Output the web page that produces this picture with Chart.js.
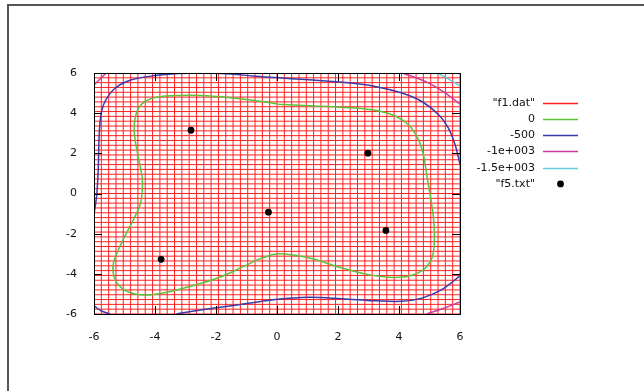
<!DOCTYPE html>
<html>
<head>
<meta charset="utf-8">
<script src="https://cdn.jsdelivr.net/npm/chart.js@4/dist/chart.umd.min.js"></script>
<style>
  html, body { margin: 0; padding: 0; background: #fff; }
  #wrap { width: 644px; height: 391px; position: relative; }
</style>
</head>
<body>
<div id="wrap"><canvas id="plot" width="644" height="391"></canvas></div>
<script>
// sample positions of the f1.dat surface mesh (51 x 51)
const gridVals = [-6, -5.76, -5.52, -5.28, -5.04, -4.8, -4.56, -4.32, -4.08, -3.84, -3.6, -3.36, -3.12,
  -2.88, -2.64, -2.4, -2.16, -1.92, -1.68, -1.44, -1.2, -0.96, -0.72, -0.48, -0.24, 0, 0.24, 0.48, 0.72,
  0.96, 1.2, 1.44, 1.68, 1.92, 2.16, 2.4, 2.64, 2.88, 3.12, 3.36, 3.6, 3.84, 4.08, 4.32, 4.56, 4.8,
  5.04, 5.28, 5.52, 5.76, 6];

const tickVals = [-6, -4, -2, 0, 2, 4, 6];

// contour level 0
const contour0 = [[0.04, 4.45], [-0.72, 4.63], [-1.6, 4.78], [-2.47, 4.88], [-3.23, 4.88], [-3.89, 4.8],
  [-4.33, 4.58], [-4.57, 4.17], [-4.68, 3.42], [-4.66, 2.76], [-4.55, 1.84], [-4.42, 0.77], [-4.42, 0.1],
  [-4.49, -0.56], [-4.68, -1.22], [-4.96, -2.05], [-5.2, -2.8], [-5.37, -3.54], [-5.33, -4.21],
  [-5.09, -4.71], [-4.66, -5.0], [-4.11, -5.04], [-3.45, -4.87], [-2.58, -4.51], [-1.81, -4.13],
  [-1.16, -3.68], [-0.5, -3.22], [0.04, -3.0], [0.6, -3.08], [1.25, -3.29], [2.13, -3.71], [3.0, -4.04],
  [3.66, -4.17], [4.31, -4.12], [4.8, -3.79], [5.08, -3.21], [5.16, -2.38], [5.13, -1.22], [5.02, -0.06],
  [4.91, 0.93], [4.8, 1.93], [4.64, 2.67], [4.31, 3.42], [3.77, 3.92], [3.11, 4.17], [2.13, 4.3],
  [1.03, 4.37], [0.04, 4.45]];

// contour level -500 (three pieces)
const contour500a = [[-6, -1.05], [-5.91, -0.06], [-5.86, 1.26], [-5.83, 2.92], [-5.77, 3.92], [-5.64, 4.58],
  [-5.31, 5.24], [-4.77, 5.66], [-4.0, 5.87], [-3.23, 5.97], [-2.5, 6.0], [-1.5, 5.95], [-0.8, 5.85],
  [-0.06, 5.77], [1.03, 5.66], [2.13, 5.54], [3.22, 5.33], [4.09, 5.0], [4.75, 4.58], [5.3, 3.92],
  [5.62, 3.26], [5.84, 2.43], [6, 1.45]];
const contour500b = [[-6, -5.6], [-5.75, -5.85], [-5.47, -6]];
const contour500c = [[-3.3, -6], [-2.5, -5.8], [-1.8, -5.65], [-0.94, -5.47], [-0.06, -5.28], [1.03, -5.17],
  [2.13, -5.24], [3.22, -5.34], [4.09, -5.37], [4.75, -5.21], [5.4, -4.79], [6, -4.1]];

// contour level -1000
const contour1000a = [[-6, 5.4], [-5.8, 5.7], [-5.6, 6]];
const contour1000b = [[4.1, 6], [4.86, 5.58], [5.52, 5.0], [6, 4.45]];
const contour1000c = [[4.9, -6], [5.4, -5.75], [6, -5.4]];

// contour level -1500
const contour1500 = [[5.25, 6], [5.6, 5.72], [6, 5.35]];

// f5.txt points
const f5Points = [[-2.82, 3.15], [2.98, 2.01], [-0.28, -0.93], [3.57, -1.84], [-3.8, -3.28]];

const legendLabels = ['"f1.dat"', '0', '-500', '-1e+003', '-1.5e+003', '"f5.txt"'];
const legendColors = ['#ff2020', '#5cc23c', '#3a3aa8', '#cc3aa0', '#66ccdd', '#000000'];

const toXY = arr => arr.map(p => ({ x: p[0], y: p[1] }));

const datasets = [];

// mesh lines
gridVals.forEach(g => {
    datasets.push({
        data: [{ x: g, y: -6 }, { x: g, y: 6 }],
        borderColor: legendColors[0], borderWidth: 1,
        showLine: true, pointRadius: 0, order: 10
    });
    datasets.push({
        data: [{ x: -6, y: g }, { x: 6, y: g }],
        borderColor: legendColors[0], borderWidth: 1,
        showLine: true, pointRadius: 0, order: 10
    });
});

function contourSet(arr, color) {
    return {
        data: toXY(arr),
        borderColor: color, borderWidth: 1.5,
        showLine: true, pointRadius: 0, tension: 0.35, order: 5
    };
}

datasets.push(contourSet(contour0, legendColors[1]));
datasets.push(contourSet(contour500a, legendColors[2]));
datasets.push(contourSet(contour500b, legendColors[2]));
datasets.push(contourSet(contour500c, legendColors[2]));
datasets.push(contourSet(contour1000a, legendColors[3]));
datasets.push(contourSet(contour1000b, legendColors[3]));
datasets.push(contourSet(contour1000c, legendColors[3]));
datasets.push(contourSet(contour1500, legendColors[4]));

datasets.push({
    data: toXY(f5Points),
    showLine: false,
    pointRadius: 3.4,
    pointBackgroundColor: '#000',
    pointBorderWidth: 0,
    order: 1
});

// frame, inner ticks and the legend, gnuplot style
const gnuplotDecor = {
    id: 'gnuplotDecor',
    afterDatasetsDraw(chart) {
        const ctx = chart.ctx;
        const a = chart.chartArea;
        const xs = chart.scales.x, ys = chart.scales.y;
        ctx.save();

        // plot border
        ctx.strokeStyle = '#000';
        ctx.lineWidth = 1;
        ctx.strokeRect(Math.round(a.left) + 0.5, Math.round(a.top) + 0.5,
            Math.round(a.right - a.left), Math.round(a.bottom - a.top));

        // inward tick marks on all four sides
        const tl = 8;
        ctx.beginPath();
        tickVals.forEach(v => {
            const px = Math.round(xs.getPixelForValue(v)) + 0.5;
            ctx.moveTo(px, a.bottom); ctx.lineTo(px, a.bottom - tl);
            ctx.moveTo(px, a.top); ctx.lineTo(px, a.top + tl);
            const py = Math.round(ys.getPixelForValue(v)) + 0.5;
            ctx.moveTo(a.left, py); ctx.lineTo(a.left + tl, py);
            ctx.moveTo(a.right, py); ctx.lineTo(a.right - tl, py);
        });
        ctx.stroke();

        // legend
        ctx.font = '11px "DejaVu Sans"';
        ctx.textAlign = 'right';
        ctx.textBaseline = 'middle';
        legendLabels.forEach((lab, i) => {
            const y = 102.7 + i * 16.25;
            ctx.fillStyle = '#111';
            ctx.fillText(lab, 535, y);
            if (i === legendLabels.length - 1) {
                ctx.fillStyle = '#000';
                ctx.beginPath();
                ctx.arc(560.5, y, 3.4, 0, Math.PI * 2);
                ctx.fill();
            } else {
                ctx.strokeStyle = legendColors[i];
                ctx.lineWidth = 1.5;
                ctx.beginPath();
                ctx.moveTo(543, Math.round(y) + 0.5);
                ctx.lineTo(578, Math.round(y) + 0.5);
                ctx.stroke();
            }
        });

        // outer window frame (top and left)
        ctx.strokeStyle = '#555';
        ctx.lineWidth = 2;
        ctx.beginPath();
        ctx.moveTo(8, 391);
        ctx.lineTo(8, 5);
        ctx.lineTo(644, 5);
        ctx.stroke();

        ctx.restore();
    }
};

new Chart(document.getElementById('plot'), {
    type: 'scatter',
    data: { datasets: datasets },
    options: {
        responsive: false,
        animation: false,
        layout: { padding: { left: 0, right: 184, top: 73, bottom: 47 } },
        plugins: { legend: { display: false }, tooltip: { enabled: false } },
        scales: {
            x: {
                type: 'linear', min: -6, max: 6,
                afterFit: s => { s.height = 30; },
                afterBuildTicks: s => { s.ticks = tickVals.map(v => ({ value: v })); },
                grid: { display: false },
                border: { display: false },
                ticks: { padding: 9, color: '#111', font: { family: 'DejaVu Sans', size: 11 } }
            },
            y: {
                type: 'linear', min: -6, max: 6,
                afterFit: s => { s.width = 94; },
                afterBuildTicks: s => { s.ticks = tickVals.map(v => ({ value: v })); },
                grid: { display: false },
                border: { display: false },
                ticks: { padding: 9, color: '#111', font: { family: 'DejaVu Sans', size: 11 } }
            }
        }
    },
    plugins: [gnuplotDecor]
});
</script>
</body>
</html>
